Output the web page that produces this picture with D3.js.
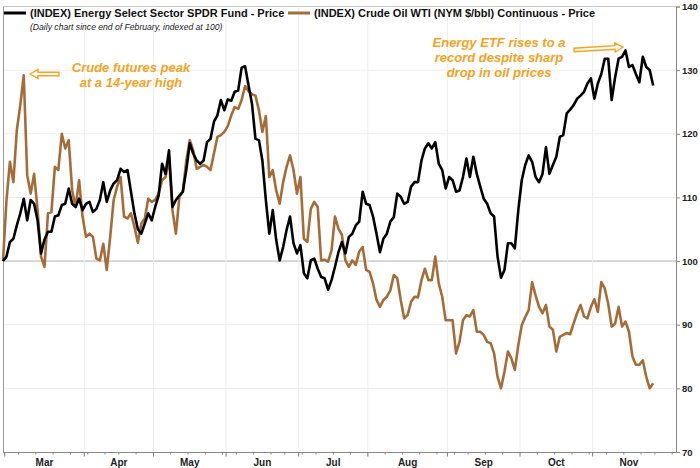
<!DOCTYPE html>
<html>
<head>
<meta charset="utf-8">
<script src="https://cdn.jsdelivr.net/npm/d3@7"></script>
<style>
body { margin: 0; background: #fff; }
svg text { font-family: Arial, "Liberation Sans", sans-serif; }
</style>
</head>
<body>
<div id="chart"></div>
<script>
var width = 700;
var height = 468;

// daily closes since end of February, indexed at 100 (one value per trading day)
var xleValues = [
  100.0, 100.7, 103.0, 103.5, 105.6, 107.5, 109.8, 106.4, 109.6, 109.0,
  106.4, 101.2, 103.4, 104.6, 104.6, 107.0, 107.2, 108.8, 109.0, 111.4,
  109.0, 108.5, 109.8, 108.0, 109.0, 109.3, 107.7, 108.2, 109.6, 112.4,
  109.3, 111.1, 112.2, 112.7, 114.5, 114.0, 114.3, 110.9, 107.5, 105.0,
  104.3, 105.9, 107.5, 106.4, 108.5, 110.3, 115.3, 113.7, 117.4, 108.5,
  109.6, 110.3, 110.9, 114.3, 118.5, 116.9, 115.8, 115.3, 115.8, 118.7,
  119.2, 121.9, 122.9, 125.3, 123.7, 125.4, 125.2, 126.6, 126.8, 130.4,
  130.6, 127.6, 124.7, 119.2, 119.0, 115.8, 109.6, 104.3, 108.0, 103.3,
  100.1, 102.2, 104.9, 107.0, 102.8, 101.2, 102.5, 98.1, 97.3, 100.1,
  100.4, 98.8, 97.5, 97.3, 95.5, 97.0, 99.1, 101.4, 103.0, 101.2,
  103.8, 104.3, 105.6, 106.2, 110.9, 109.0, 108.8, 107.0, 104.3, 101.4,
  103.5, 104.3, 106.2, 106.9, 110.6, 110.1, 109.0, 109.3, 111.7, 112.4,
  112.4, 115.8, 117.7, 118.5, 117.7, 118.7, 115.3, 114.3, 111.4, 113.2,
  112.7, 110.9, 111.1, 113.2, 116.1, 113.2, 116.4, 113.7, 111.7, 109.8,
  109.0, 107.5, 107.0, 100.7, 97.4, 98.6, 102.8, 102.8, 102.0, 108.0,
  112.7, 115.1, 116.6, 115.6, 113.2, 112.4, 113.7, 117.9, 113.7, 115.1,
  116.4, 119.5, 119.8, 123.2, 123.8, 124.5, 125.5, 126.0, 126.6, 127.9,
  128.7, 125.5, 127.9, 129.4, 131.8, 131.8, 125.3, 128.9, 131.8, 132.1,
  133.1, 130.5, 130.8, 129.4, 128.1, 132.1, 130.5, 130.0, 127.6
];

var wtiValues = [
  100.0, 109.5, 115.6, 112.4, 120.6, 124.5, 129.2, 113.5, 110.6, 113.7,
  108.0, 100.7, 99.1, 107.5, 107.7, 114.8, 114.3, 120.0, 117.7, 119.0,
  111.1, 108.5, 112.7, 107.0, 103.8, 104.3, 103.8, 100.4, 100.1, 102.7,
  98.6, 103.8, 109.6, 111.7, 113.2, 107.0, 106.7, 107.5, 105.4, 102.9,
  105.9, 106.7, 109.8, 109.3, 109.6, 110.6, 112.7, 113.2, 116.1, 108.0,
  104.3, 110.1, 110.9, 115.8, 119.0, 117.4, 114.5, 114.8, 115.1, 114.8,
  114.3, 116.9, 119.5, 119.8, 120.3, 121.2, 122.9, 124.2, 123.9, 125.3,
  127.5, 126.7, 126.2, 126.0, 123.7, 120.3, 122.8, 113.2, 114.3, 111.1,
  109.0, 112.4, 114.8, 116.6, 114.3, 110.6, 113.2, 103.5, 103.0, 108.2,
  109.3, 108.5, 100.1, 100.2, 99.9, 101.7, 107.0, 105.1, 104.1, 100.1,
  99.1, 100.1, 99.4, 101.5, 102.2, 98.6, 98.3, 96.5, 93.9, 92.8,
  93.9, 94.4, 95.4, 97.8, 97.3, 93.9, 91.0, 91.5, 93.6, 94.4,
  94.3, 97.0, 98.8, 97.0, 97.0, 100.7, 96.5, 94.4, 90.7, 90.7,
  90.7, 85.5, 87.3, 90.7, 91.5, 91.3, 92.3, 88.9, 88.9, 88.4,
  87.3, 87.1, 85.5, 81.8, 80.0, 82.6, 85.8, 84.7, 82.9, 86.8,
  89.9, 91.2, 92.3, 96.7, 94.6, 92.8, 91.8, 93.1, 89.7, 89.2,
  85.8, 88.1, 88.4, 88.7, 88.5, 90.2, 91.8, 93.1, 91.3, 91.0,
  92.8, 94.0, 92.0, 96.7, 95.7, 93.3, 89.7, 90.2, 92.8, 89.7,
  90.5, 88.9, 85.0, 83.7, 83.7, 84.4, 81.8, 80.0, 80.8
];

var seriesNames = [
  "(INDEX) Energy Select Sector SPDR Fund - Price",
  "(INDEX) Crude Oil WTI (NYM $/bbl) Continuous - Price"
];
var seriesColors = ["#000000", "#a66c37"];
var monthLabels = ["Mar", "Apr", "May", "Jun", "Jul", "Aug", "Sep", "Oct", "Nov"];
var yTicks = [70, 80, 90, 100, 110, 120, 130, 140];
var holidays = ["2022-04-15", "2022-05-30", "2022-06-20", "2022-07-04", "2022-09-05", "2022-11-24"];
var subtitle = "(Daily chart since end of February, indexed at 100)";
var note1 = ["Crude futures peak", "at a 14-year high"];
var note2 = ["Energy ETF rises to a", "record despite sharp", "drop in oil prices"];
var orange = "#f7a21e";

var plot = { left: 3, right: 676, top: 6.5, bottom: 452 };

var svg = d3.select("#chart")
    .append("svg")
    .attr("width", width)
    .attr("height", height);

// trading day calendar, starting at Feb 28 2022 (index 0)
var fmt = d3.timeFormat("%Y-%m-%d");
var days = [];
var d = new Date(2022, 1, 28);
while (days.length < 196) {
    var wd = d.getDay();
    if (wd != 0 && wd != 6 && holidays.indexOf(fmt(d)) < 0) days.push(new Date(d));
    d = d3.timeDay.offset(d, 1);
}

var xScale = d3.scaleLinear()
    .domain([0, 194.6])
    .range([plot.left, plot.right]);
var yScale = d3.scaleLinear()
    .domain([70, 140])
    .range([plot.bottom, plot.top]);

// month boundaries and week starts
var monthTicks = [];
var weekTicks = [];
for (var i = 1; i < days.length; i++) {
    if (days[i].getMonth() != days[i - 1].getMonth()) monthTicks.push(i - 0.5);
    else if (days[i].getDay() < days[i - 1].getDay()) weekTicks.push(i - 0.5);
}
monthTicks = monthTicks.slice(0, monthLabels.length + 1);

// grid
svg.selectAll(".hgrid")
    .data(yTicks.filter(function(v) { return v != 70; }))
    .enter().append("line")
    .attr("x1", plot.left).attr("x2", plot.right)
    .attr("y1", function(v) { return yScale(v); })
    .attr("y2", function(v) { return yScale(v); })
    .attr("stroke", function(v) { return v == 100 ? "#b0b0b0" : (v == 140 ? "#c8c8c8" : "#ededed"); })
    .attr("stroke-width", 1);

svg.selectAll(".vgrid")
    .data(monthTicks.slice(1, monthLabels.length))
    .enter().append("line")
    .attr("x1", function(t) { return xScale(t); })
    .attr("x2", function(t) { return xScale(t); })
    .attr("y1", plot.top).attr("y2", plot.bottom)
    .attr("stroke", "#ededed");

// frame
svg.append("line")
    .attr("x1", plot.left + 0.5).attr("x2", plot.left + 0.5)
    .attr("y1", plot.top).attr("y2", plot.bottom)
    .attr("stroke", "#9a9a9a");

// x axis
var xAxis = svg.append("g");
xAxis.append("line")
    .attr("x1", plot.left).attr("x2", plot.right)
    .attr("y1", plot.bottom + 0.5).attr("y2", plot.bottom + 0.5)
    .attr("stroke", "#888");
xAxis.selectAll(".wk")
    .data(weekTicks.filter(function(t) { return xScale(t) < plot.right; }))
    .enter().append("line")
    .attr("x1", function(t) { return xScale(t); })
    .attr("x2", function(t) { return xScale(t); })
    .attr("y1", plot.bottom).attr("y2", plot.bottom + 2.5)
    .attr("stroke", "#888");
xAxis.selectAll(".mo")
    .data(monthTicks.slice(0, monthLabels.length))
    .enter().append("line")
    .attr("x1", function(t) { return xScale(t); })
    .attr("x2", function(t) { return xScale(t); })
    .attr("y1", plot.bottom).attr("y2", plot.bottom + 4.5)
    .attr("stroke", "#777");
xAxis.selectAll(".mlab")
    .data(monthLabels)
    .enter().append("text")
    .attr("x", function(m, k) { return xScale((monthTicks[k] + monthTicks[k + 1]) / 2); })
    .attr("y", 466)
    .attr("text-anchor", "middle")
    .attr("font-size", 10)
    .attr("font-weight", "bold")
    .attr("fill", "#222")
    .text(function(m) { return m; });

// y axis on the right
var yAxis = svg.append("g")
    .attr("transform", "translate(" + plot.right + ",0)")
    .call(d3.axisRight(yScale).tickValues(yTicks).tickSize(4).tickPadding(2));
yAxis.select(".domain").attr("stroke", "#888");
yAxis.selectAll(".tick line").attr("stroke", "#888");
yAxis.selectAll(".tick text")
    .attr("font-size", 9.5)
    .attr("font-weight", "bold")
    .attr("font-family", "Arial, 'Liberation Sans', sans-serif")
    .attr("fill", "#222");

// lines
var line = d3.line()
    .x(function(v, i) { return xScale(i); })
    .y(function(v) { return yScale(v); });

[wtiValues, xleValues].forEach(function(vals, k) {
    svg.append("path")
        .datum(vals)
        .attr("fill", "none")
        .attr("stroke", seriesColors[1 - k])
        .attr("stroke-width", 2.6)
        .attr("stroke-linejoin", "round")
        .attr("d", line);
});

// legend
var legendX = [4, 288];
seriesNames.forEach(function(name, k) {
    svg.append("line")
        .attr("x1", legendX[k]).attr("x2", legendX[k] + 22)
        .attr("y1", 13).attr("y2", 13)
        .attr("stroke", seriesColors[k])
        .attr("stroke-width", 3);
    svg.append("text")
        .attr("x", legendX[k] + 26)
        .attr("y", 17)
        .attr("font-size", 11)
        .attr("font-weight", "bold")
        .attr("fill", "#111")
        .text(name);
});
svg.append("text")
    .attr("x", 30).attr("y", 30)
    .attr("font-size", 8.6)
    .attr("font-style", "italic")
    .attr("fill", "#222")
    .text(subtitle);

// annotations
function arrow(x0, y0, len, angle) {
    // hollow arrow pointing to (x0, y0), shaft going back along angle
    var p = [[0, 0], [8, -4.5], [8, -1.8], [len, -1.8], [len, 1.8], [8, 1.8], [8, 4.5]];
    svg.append("polygon")
        .attr("points", p.map(function(q) { return q.join(","); }).join(" "))
        .attr("transform", "translate(" + x0 + "," + y0 + ") rotate(" + angle + ")")
        .attr("fill", "#fff")
        .attr("stroke", orange)
        .attr("stroke-width", 1.4)
        .attr("stroke-linejoin", "miter");
}

function note(lines, cx, y0) {
    svg.append("g").selectAll("text")
        .data(lines)
        .enter().append("text")
        .attr("x", cx)
        .attr("y", function(t, k) { return y0 + k * 15; })
        .attr("text-anchor", "middle")
        .attr("font-size", 13)
        .attr("font-weight", "bold")
        .attr("font-style", "italic")
        .attr("fill", orange)
        .text(function(t) { return t; });
}

note(note1, 131, 72);
note(note2, 499, 47);
arrow(30, 74, 29, 0);
arrow(623, 47, 49, 176.5);
</script>
</body>
</html>
